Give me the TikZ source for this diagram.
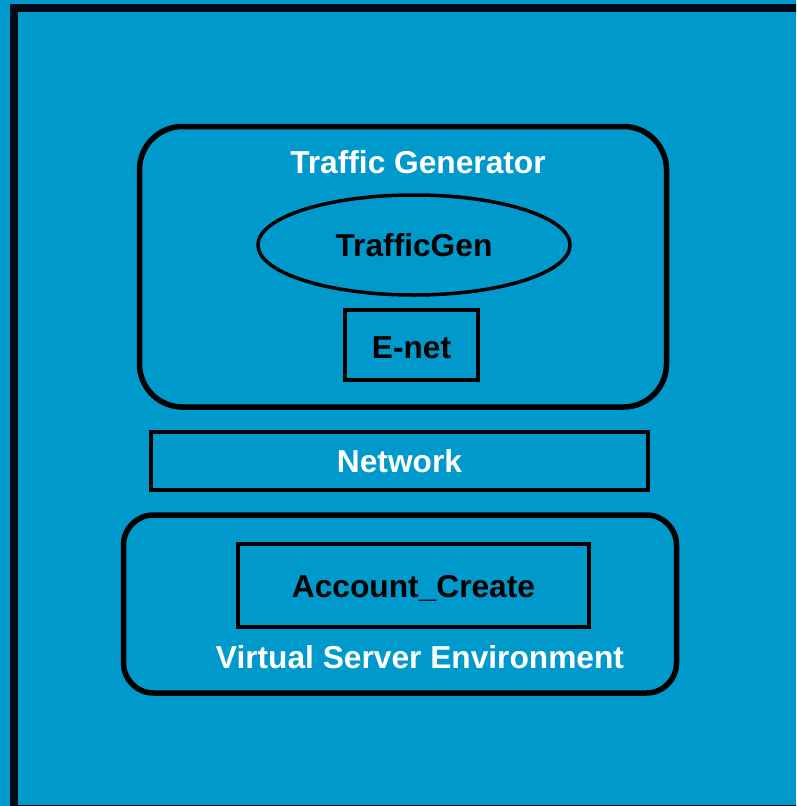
\documentclass[tikz,border=0pt]{standalone}
\usepackage{fontspec}
\setmainfont{Liberation Sans}
\usetikzlibrary{shapes.geometric}
\definecolor{bgblue}{HTML}{0099CC}
\definecolor{framedark}{HTML}{020A18}
\tikzset{
  lbl/.style={font=\fontsize{31.7}{38}\selectfont\bfseries},
  whitelbl/.style={lbl,text=white},
  blacklbl/.style={lbl,text=black},
  roundbox/.style={draw=black,line width=5.5pt,rounded corners=#1,inner sep=0pt},
  plainbox/.style={draw=black,line width=3.5pt,inner sep=0pt}
}
\begin{document}
\begin{tikzpicture}[x=1pt,y=-1pt]
\useasboundingbox (0,0) rectangle (796,806);
\clip (0,0) rectangle (796,806);
\fill[bgblue](0,0) rectangle (796,806);
% outer frame, cut off on the right and at the bottom
\draw[framedark,line width=8pt](14,8) rectangle (810,809);
% traffic generator
\node[roundbox=43pt,minimum width=527pt,minimum height=280.5pt] (tgbox) at (403,266.75) {};
\node[whitelbl] (tglabel) at (418,162) {Traffic Generator};
\node[ellipse,draw=black,line width=3.5pt,minimum width=312pt,minimum height=100pt,inner sep=0pt] (trafficgen) at (414,245) {};
\node[blacklbl] at (trafficgen.center) {TrafficGen};
\node[plainbox,minimum width=133pt,minimum height=70pt] (enet) at (411.5,345) {};
\node[blacklbl,yshift=-3pt] at (enet.center) {E-net};
% network
\node[plainbox,minimum width=497pt,minimum height=58pt] (network) at (399.5,461) {};
\node[whitelbl] at (network.center) {Network};
% virtual server environment
\node[roundbox=30pt,minimum width=553pt,minimum height=178pt] (vsebox) at (400,604) {};
\node[plainbox,minimum width=351pt,minimum height=83pt] (account) at (413.5,585.5) {};
\node[blacklbl,yshift=-3pt] at (account.center) {Account\_Create};
\node[whitelbl] (vselabel) at (420,657) {Virtual Server Environment};
\end{tikzpicture}
\end{document}
